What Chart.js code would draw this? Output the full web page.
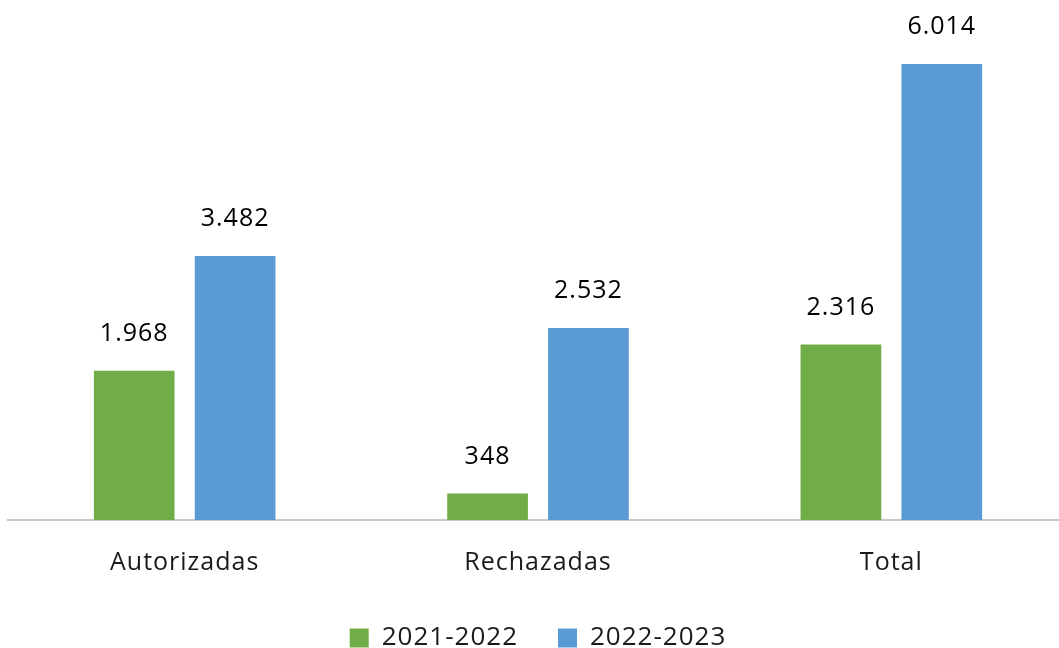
<!DOCTYPE html>
<html>
<head>
<meta charset="utf-8">
<script src="https://cdn.jsdelivr.net/npm/chart.js@4"></script>
<style>
  html, body { margin: 0; padding: 0; background: #fff; overflow: hidden; }
  #wrap { width: 1068px; height: 661px; position: relative; }
</style>
</head>
<body>
<div id="wrap"><canvas id="chart"></canvas></div>
<script>
/* ── data ─────────────────────────────────────────────── */

const CATEGORIES = ["Autorizadas", "Rechazadas", "Total"];
const SERIES_NAMES = ["2021-2022", "2022-2023"];
const VALUES_2122 = [1968, 348, 2316];
const VALUES_2223 = [3482, 2532, 6014];

const GREEN = "#70AD47";
const BLUE  = "#5B9BD5";
const FONT  = "'Open Sans', sans-serif";
const TEXT  = "#1a1a1a";

/* ── helpers / plugins ────────────────────────────────── */

const fmt = v => String(v).replace(/\B(?=(\d{3})+(?!\d))/g, ".");

// a bit of tracking on all canvas text, like the original
const spacing = {
  id: "spacing",
  beforeLayout(chart) { chart.ctx.letterSpacing = "1px"; },
  beforeDraw(chart)   { chart.ctx.letterSpacing = "1px"; },
};

const barLabels = {
  id: "barLabels",
  afterDatasetsDraw(chart) {
    const ctx = chart.ctx;
    ctx.save();
    ctx.font = `25px ${FONT}`;
    ctx.fillStyle = "#000";
    ctx.textAlign = "center";
    ctx.textBaseline = "middle";
    chart.data.datasets.forEach((ds, i) => {
      chart.getDatasetMeta(i).data.forEach((bar, j) => {
        ctx.fillText(fmt(ds.data[j]), bar.x, bar.y - 37);
      });
    });
    ctx.restore();
  },
};

/* ── chart ────────────────────────────────────────────── */

new Chart(document.getElementById("chart"), {
  type: "bar",
  data: {
    labels: CATEGORIES,
    datasets: [
      { label: SERIES_NAMES[0], data: VALUES_2122, backgroundColor: GREEN },
      { label: SERIES_NAMES[1], data: VALUES_2223, backgroundColor: BLUE },
    ],
  },
  options: {
    responsive: true,
    maintainAspectRatio: false,
    animation: false,
    categoryPercentage: 0.571,
    barPercentage: 0.8,
    layout: { padding: { left: 8, right: 0, top: 12, bottom: 0 } },
    plugins: {
      tooltip: { enabled: false },
      legend: {
        position: "bottom",
        labels: {
          font: { family: FONT, size: 26 },
          color: TEXT,
          boxWidth: 19,
          boxHeight: 19,
          padding: 40,
        },
      },
    },
    scales: {
      x: {
        grid: { display: false, drawTicks: false },
        border: { color: "#C8C8C8", width: 2 },
        ticks: { font: { family: FONT, size: 25 }, color: TEXT, padding: 28 },
        afterFit: scale => { scale.height = 65; },
      },
      y: {
        display: false,
        min: 0,
        max: 6700,
      },
    },
  },
  plugins: [spacing, barLabels],
});
</script>
</body>
</html>
